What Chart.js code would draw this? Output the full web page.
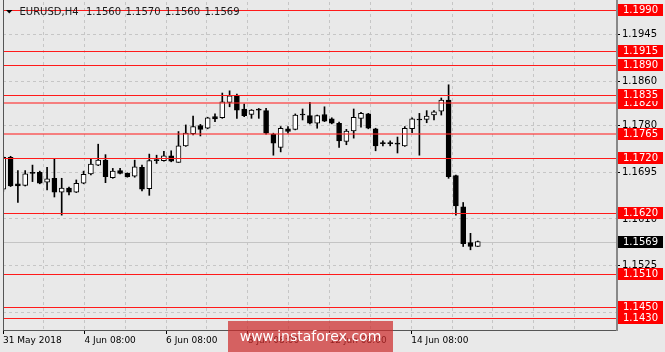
<!DOCTYPE html>
<html>
<head>
<meta charset="utf-8">
<script src="https://cdn.jsdelivr.net/npm/chart.js@4.4.1/dist/chart.umd.min.js"></script>
<style>
  html, body { margin: 0; padding: 0; background: #e9e9e9; }
  canvas { display: block; }
</style>
</head>
<body>
<canvas id="eurusdChart" width="665" height="352"></canvas>
<script>
// EURUSD H4 candles (oldest first)
const symbol = 'EURUSD,H4';
const opens = [
  1.1664, 1.1722, 1.1674, 1.1671, 1.1693, 1.1695, 1.1677, 1.1684, 1.1659, 1.1666,
  1.1659, 1.1675, 1.1692, 1.1708, 1.1717, 1.1685, 1.1698, 1.1693, 1.1688, 1.1704,
  1.1665, 1.1716, 1.1716, 1.1725, 1.1713, 1.1743, 1.1765, 1.1780, 1.1775, 1.1796,
  1.1794, 1.1822, 1.1835, 1.1810, 1.1800, 1.1808, 1.1807, 1.1764, 1.1740, 1.1774,
  1.1773, 1.1799, 1.1798, 1.1784, 1.1800, 1.1792, 1.1784, 1.1751, 1.1770, 1.1793,
  1.1801, 1.1774, 1.1747, 1.1748, 1.1746, 1.1743, 1.1774, 1.1790, 1.1791, 1.1799,
  1.1806, 1.1826, 1.1689, 1.1632, 1.1567, 1.1560
];
const highs = [
  1.1724, 1.1724, 1.1698, 1.1698, 1.1708, 1.1697, 1.1704, 1.1720, 1.1684, 1.1668,
  1.1681, 1.1697, 1.1719, 1.1746, 1.1727, 1.1702, 1.1702, 1.1694, 1.1717, 1.1708,
  1.1728, 1.1726, 1.1733, 1.1734, 1.1769, 1.1781, 1.1797, 1.1782, 1.1795, 1.1801,
  1.1839, 1.1843, 1.1837, 1.1819, 1.1809, 1.1811, 1.1811, 1.1766, 1.1778, 1.1778,
  1.1801, 1.1810, 1.1822, 1.1799, 1.1814, 1.1794, 1.1786, 1.1773, 1.1810, 1.1804,
  1.1802, 1.1775, 1.1752, 1.1752, 1.1759, 1.1778, 1.1794, 1.1802, 1.1807, 1.1807,
  1.1830, 1.1854, 1.1690, 1.1640, 1.1584, 1.1570
];
const lows = [
  1.1660, 1.1669, 1.1640, 1.1670, 1.1678, 1.1674, 1.1663, 1.1650, 1.1617, 1.1654,
  1.1658, 1.1674, 1.1690, 1.1707, 1.1676, 1.1684, 1.1692, 1.1686, 1.1686, 1.1661,
  1.1653, 1.1711, 1.1715, 1.1714, 1.1713, 1.1742, 1.1763, 1.1761, 1.1774, 1.1787,
  1.1793, 1.1814, 1.1793, 1.1796, 1.1793, 1.1793, 1.1764, 1.1726, 1.1732, 1.1766,
  1.1772, 1.1790, 1.1783, 1.1775, 1.1787, 1.1783, 1.1740, 1.1745, 1.1757, 1.1777,
  1.1774, 1.1734, 1.1743, 1.1743, 1.1730, 1.1742, 1.1767, 1.1726, 1.1785, 1.1790,
  1.1799, 1.1684, 1.1617, 1.1560, 1.1554, 1.1560
];
const closes = [
  1.1722, 1.1670, 1.1670, 1.1692, 1.1694, 1.1675, 1.1683, 1.1659, 1.1666, 1.1659,
  1.1675, 1.1691, 1.1710, 1.1717, 1.1687, 1.1697, 1.1693, 1.1687, 1.1705, 1.1664,
  1.1716, 1.1717, 1.1725, 1.1715, 1.1743, 1.1766, 1.1778, 1.1773, 1.1794, 1.1792,
  1.1823, 1.1834, 1.1808, 1.1798, 1.1808, 1.1810, 1.1766, 1.1748, 1.1775, 1.1769,
  1.1799, 1.1800, 1.1784, 1.1798, 1.1788, 1.1784, 1.1752, 1.1770, 1.1795, 1.1802,
  1.1775, 1.1743, 1.1747, 1.1747, 1.1747, 1.1775, 1.1792, 1.1791, 1.1797, 1.1805,
  1.1826, 1.1687, 1.1634, 1.1565, 1.1560, 1.1569
];

// horizontal levels drawn on the chart
const levels = [1.1990, 1.1915, 1.1890, 1.1835, 1.1820, 1.1765, 1.1720, 1.1620, 1.1510, 1.1450, 1.1430];
const faintLevels = [1.1820, 1.1765];

// axis labels
const priceTicks = [1.1440, 1.1525, 1.1610, 1.1695, 1.1780, 1.1860, 1.1945];
const timeLabels = ['31 May 2018', '4 Jun 08:00', '6 Jun 08:00', '8 Jun 08:00', '12 Jun 08:00', '14 Jun 08:00'];
const watermark = 'www.instaforex.com';

const xMin = -0.04, xMax = 84.07, gridStep = 5.596;
const yMin = 1.14082, yMax = 1.20045;
const FONT = 'DejaVu Sans';

const last = closes.length - 1;

const bodies = opens.map((o, i) => ({ x: i, y: [o, closes[i]] }));
const wicks = highs.map((h, i) => ({ x: i, y: [lows[i], h] }));
const bodyColors = opens.map((o, i) => (closes[i] - o > 0.0002 ? '#ffffff' : '#000000'));

const xGrid = [];
for (let k = 0; k <= 14; k++) xGrid.push(k === 0 ? xMin : -0.082 + gridStep * k);

const overlays = {
  id: 'overlays',
  beforeDraw(chart) {
    const ctx = chart.ctx;
    ctx.save();
    ctx.fillStyle = '#e9e9e9';
    ctx.fillRect(0, 0, chart.width, chart.height);
    ctx.restore();
  },
  beforeDatasetsDraw(chart) {
    const { ctx, chartArea: a, scales: { y } } = chart;
    const py = Math.round(y.getPixelForValue(closes[last])) + 0.5;
    ctx.save();
    ctx.strokeStyle = '#c4c4c4';
    ctx.lineWidth = 1;
    ctx.beginPath();
    ctx.moveTo(a.left, py);
    ctx.lineTo(a.right, py);
    ctx.stroke();
    ctx.restore();
  },
  afterDatasetsDraw(chart) {
    const { ctx, chartArea: a, scales: { y } } = chart;
    ctx.save();
    levels.forEach(v => {
      const faint = faintLevels.includes(v);
      const py = Math.round(y.getPixelForValue(v)) + (faint ? 0 : 0.5);
      ctx.strokeStyle = faint ? 'rgba(255,40,40,0.55)' : '#ff1a1a';
      ctx.lineWidth = faint ? 2 : 1;
      ctx.beginPath();
      ctx.moveTo(a.left, py);
      ctx.lineTo(a.right, py);
      ctx.stroke();
    });
    // frame
    ctx.strokeStyle = '#555';
    ctx.lineWidth = 1;
    ctx.beginPath();
    ctx.moveTo(a.left + 0.5, 0);
    ctx.lineTo(a.left + 0.5, a.bottom + 0.5);
    ctx.lineTo(a.right, a.bottom + 0.5);
    ctx.stroke();
    ctx.strokeStyle = '#888';
    ctx.lineWidth = 2;
    ctx.beginPath();
    ctx.moveTo(a.right, 0);
    ctx.lineTo(a.right, a.bottom + 1);
    ctx.stroke();
    ctx.restore();
  },
  afterDraw(chart) {
    const { ctx, chartArea: a, scales: { y } } = chart;
    ctx.save();
    ctx.font = '10px "' + FONT + '"';
    ctx.textBaseline = 'middle';
    const box = (v, bg) => {
      const py = Math.round(y.getPixelForValue(v));
      ctx.fillStyle = bg;
      ctx.fillRect(a.right + 1, py - 6, 45, 12);
      ctx.fillStyle = '#ffffff';
      ctx.fillText(v.toFixed(4), a.right + 6, py + 0.5);
    };
    [...levels].sort((p, q) => p - q).forEach(v => box(v, '#ff0000'));
    box(closes[last], '#000000');

    // header
    ctx.fillStyle = '#000';
    ctx.beginPath();
    ctx.moveTo(6, 10);
    ctx.lineTo(12.5, 10);
    ctx.lineTo(9.25, 13.5);
    ctx.closePath();
    ctx.fill();
    ctx.fillStyle = '#1a1a1a';
    ctx.fillText(symbol, 19.5, 12);
    [opens[last], highs[last], lows[last], closes[last]].forEach((v, i) => {
      ctx.fillText(v.toFixed(4), 86 + i * 39.5, 12);
    });

    // watermark
    ctx.fillStyle = 'rgba(205,45,45,0.72)';
    ctx.fillRect(228, 321, 165, 31);
    ctx.fillStyle = '#ffffff';
    ctx.font = '14px "' + FONT + '"';
    ctx.textAlign = 'center';
    ctx.fillText(watermark, 310.5, 337);
    ctx.restore();
  }
};

new Chart(document.getElementById('eurusdChart'), {
  type: 'bar',
  data: {
    datasets: [
      {
        label: 'body',
        data: bodies,
        backgroundColor: bodyColors,
        borderColor: '#000000',
        borderWidth: 1,
        borderSkipped: false,
        barThickness: 5,
        minBarLength: 1,
        grouped: false,
        order: 1
      },
      {
        label: 'wick',
        data: wicks,
        backgroundColor: '#000000',
        borderWidth: 0,
        barThickness: 1,
        grouped: false,
        order: 2
      }
    ]
  },
  options: {
    responsive: false,
    animation: false,
    events: [],
    layout: { padding: { left: 3, top: 2, right: 0, bottom: 0 } },
    plugins: { legend: { display: false }, tooltip: { enabled: false } },
    scales: {
      x: {
        type: 'linear',
        min: xMin,
        max: xMax,
        offset: false,
        afterBuildTicks: s => { s.ticks = xGrid.map(v => ({ value: v })); },
        afterFit: s => { s.height = 22; s.paddingLeft = 0; s.paddingRight = 0; },
        grid: {
          offset: false,
          color: '#c6c6c6',
          lineWidth: 1,
          tickLength: 4,
          tickColor: c => (c.index % 2 === 0 && c.index / 2 < timeLabels.length ? '#000' : 'rgba(0,0,0,0)')
        },
        border: { display: false, dash: [3, 3] },
        ticks: {
          autoSkip: false,
          maxRotation: 0,
          align: 'start',
          padding: 1,
          color: '#000',
          font: { family: FONT, size: 9 },
          callback: (v, i) => (i % 2 === 0 && timeLabels[i / 2] ? timeLabels[i / 2] : '')
        }
      },
      y: {
        position: 'right',
        min: yMin,
        max: yMax,
        afterBuildTicks: s => { s.ticks = priceTicks.map(v => ({ value: v })); },
        afterFit: s => { s.width = 48; s.paddingTop = 0; s.paddingBottom = 0; },
        grid: { color: '#c6c6c6', lineWidth: 1, tickLength: 3, tickColor: '#000' },
        border: { display: false, dash: [3, 3] },
        ticks: {
          padding: 2,
          color: '#000',
          font: { family: FONT, size: 10 },
          callback: v => v.toFixed(4)
        }
      }
    }
  },
  plugins: [overlays]
});
</script>
</body>
</html>
